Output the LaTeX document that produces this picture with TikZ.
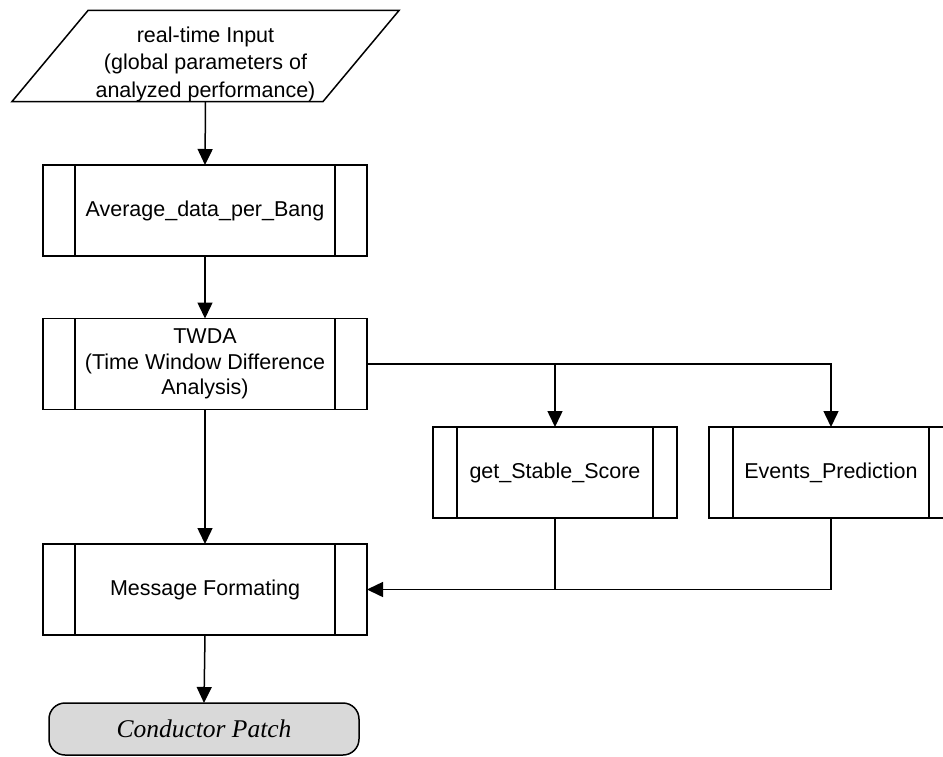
\documentclass[tikz,border=0pt]{standalone}
\usepackage{fontspec}
\setsansfont{Liberation Sans}
\newfontfamily\patchfont{Liberation Serif}
\usetikzlibrary{arrows.meta}
\definecolor{patchfill}{RGB}{217,217,217}
\begin{document}
\begin{tikzpicture}[x=1pt,y=-1pt,
  every node/.style={font=\sffamily\fontsize{21.5}{25.5}\selectfont,
    align=center, inner sep=0pt, outer sep=0pt},
  line/.style={line width=1.5pt},
  flow/.style={line width=1.5pt, -{Triangle[length=16pt,width=15pt]}},
  % predefined-process box: border plus two inner vertical strips
  proc/.style={draw, line width=1.5pt,
    path picture={
      \draw[line width=1.5pt]
        ([xshift=#1]path picture bounding box.north west) --
        ([xshift=#1]path picture bounding box.south west)
        ([xshift=-#1]path picture bounding box.north east) --
        ([xshift=-#1]path picture bounding box.south east);}},
  bigproc/.style={proc=32pt, minimum width=324pt, minimum height=91pt},
  smallproc/.style={proc=24pt, minimum width=244pt, minimum height=91pt},
  terminal/.style={draw, line width=1.5pt, fill=patchfill,
    rounded corners=16pt, minimum width=310pt, minimum height=52pt,
    font=\patchfont\itshape\fontsize{25.5}{29}\selectfont},
]
\clip (0,0) rectangle (943,756);

% input parallelogram
\node[minimum width=311pt, minimum height=72pt,
      font=\sffamily\fontsize{21.5}{27.5}\selectfont] (inp) at (205.5,64)
  {real-time Input\\(global parameters of\\analyzed performance)};
\draw[line]
  ([shift={(38,-16)}]inp.north west) -- ([shift={(38,-16)}]inp.north east) --
  ([xshift=-38pt]inp.south east) -- ([xshift=-38pt]inp.south west) -- cycle;

% processing steps
\node[bigproc] (avg) at (205,210.5) {Average\_data\_per\_Bang};
\node[bigproc] (twda) at (205,364) {TWDA\\(Time Window Difference\\Analysis)};
\node[smallproc] (get) at (555,472.5) {get\_Stable\_Score};
\node[smallproc] (ev) at (831,472.5) {Events\_Prediction};
\node[bigproc] (msg) at (205,589.5) {Message Formating};
\node[terminal] (out) at (204,729) {Conductor Patch};

% connectors
\draw[flow] (inp.south) -- (avg.north);
\draw[flow] (avg.south) -- (twda.north);
\draw[flow] (twda.south) -- (msg.north);
\draw[flow] (twda.east) -| (ev.north);
\draw[flow] (twda.east -| get.north) -- (get.north);
\draw[flow] (ev.south) |- (msg.east);
\draw[line] (get.south) -- (get.south |- msg.east);
\draw[flow] (msg.south) -- (out.north);
\end{tikzpicture}
\end{document}
